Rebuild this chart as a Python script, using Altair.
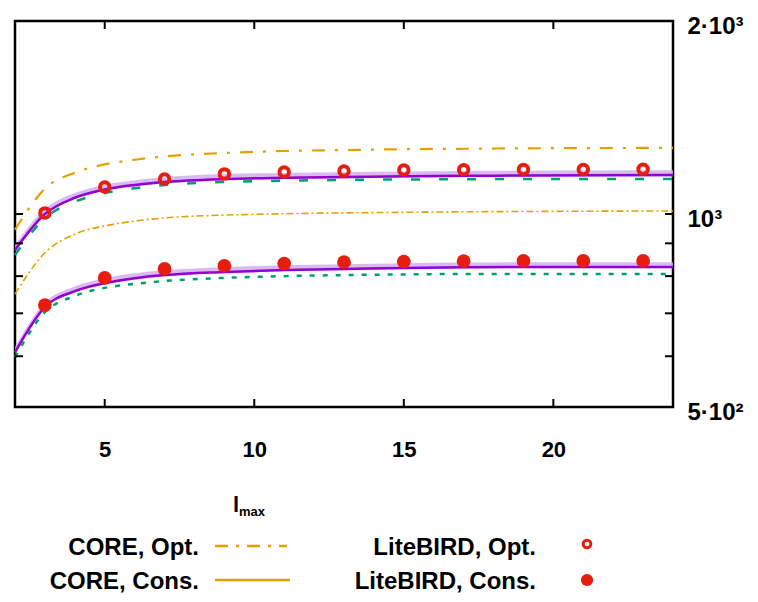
import altair as alt
import pandas as pd

# ---------------- data ----------------
x_line = [2, 3, 4, 5, 6, 7, 9, 11, 13, 15, 17, 19, 21, 24]

core_opt = [945, 1095, 1160, 1195, 1215, 1230, 1245, 1254, 1258, 1262, 1264, 1266, 1267, 1268]
core_cons = [750, 870, 930, 958, 975, 986, 996, 1001, 1004, 1006, 1008, 1009, 1010, 1011]

purple_opt = [879, 1000, 1060, 1092, 1110, 1122, 1134, 1139, 1142, 1145, 1147, 1148, 1149, 1150]
green_opt = [863, 985, 1045, 1078, 1097, 1110, 1122, 1127, 1130, 1132, 1133, 1134, 1134, 1134]
purple_cons = [609, 716, 758, 780, 794, 803, 812, 818, 821, 824, 826, 827, 827, 827]
green_cons = [598, 703, 745, 767, 778, 786, 795, 800, 803, 805, 806, 806, 806, 806]

band_opt_hi = [895, 1018, 1078, 1111, 1129, 1141, 1154, 1159, 1162, 1165, 1167, 1168, 1169, 1170]
band_opt_lo = [875, 995, 1055, 1087, 1104, 1116, 1128, 1133, 1136, 1139, 1141, 1142, 1143, 1144]
band_cons_hi = [620, 728, 771, 794, 808, 817, 826, 832, 835, 838, 840, 841, 841, 841]
band_cons_lo = [606, 712, 754, 776, 790, 799, 808, 814, 817, 820, 822, 823, 823, 823]

x_pts = [3, 5, 7, 9, 11, 13, 15, 17, 19, 21, 23]
lite_opt = [1004, 1102, 1134, 1155, 1163, 1167, 1171, 1172, 1173, 1173, 1174]
lite_cons = [721, 795, 821, 830, 837, 841, 843, 844, 845, 845, 845]

x_ticks = [5, 10, 15, 20]
y_minor = [600, 700, 800, 900, 1000]
y_labels = [500, 1000, 2000]

# ---------------- style ----------------
W, H = 658, 386
FONT = "Liberation Sans"
ORANGE = "#E69F00"
PURPLE = "#9400D3"
BAND = "#D2AEF0"
GREEN = "#009E73"
RED = "#E51E10"

xs = alt.Scale(domain=[2, 24], nice=False, zero=False)
ys = alt.Scale(type="log", domain=[500, 2000], nice=False)

X = alt.X("x:Q", scale=xs, axis=alt.Axis(values=x_ticks, ticks=False, domain=False, grid=False,
                                          labelFont=FONT, labelFontSize=22, labelFontWeight="bold",
                                          labelColor="black",
                                          labelPadding=32, labelOverlap=False, labelFlush=False,
                                          title=None))
Y = alt.Y("v:Q", scale=ys, axis=alt.Axis(orient="right", values=y_labels, ticks=False, domain=False,
                                          grid=False, labelFont=FONT, labelFontSize=24,
                                          labelFontWeight="bold",
                                          labelColor="black", labelAlign="left", labelPadding=14,
                                          labelBaseline="middle", labelOffset=5,
                                          labelOverlap=False, labelFlush=False, labelBound=False,
                                          labelExpr="datum.value == 500 ? '5·10²' : (datum.value == 1000 ? '10³' : '2·10³')",
                                          title=None))


def line(vals, color, dash=None, width=2.5):
    df = pd.DataFrame({"x": x_line, "v": vals})
    kw = dict(color=color, strokeWidth=width, interpolate="monotone")
    if dash:
        kw["strokeDash"] = dash
    return alt.Chart(df).mark_line(**kw).encode(x=X, y=Y)


def band(lo, hi):
    df = pd.DataFrame({"x": x_line, "v": lo, "v2": hi})
    return alt.Chart(df).mark_area(color=BAND, opacity=0.85, interpolate="monotone").encode(
        x=X, y=Y, y2="v2:Q")


layers = []
layers.append(band(band_opt_lo, band_opt_hi))
layers.append(band(band_cons_lo, band_cons_hi))
layers.append(line(core_opt, ORANGE, [13, 10, 3, 10], 2.2))
layers.append(line(core_cons, ORANGE, [7, 3, 2, 3], 1.6))
layers.append(line(green_opt, GREEN, [9, 19], 2.5))
layers.append(line(green_cons, GREEN, [5, 8], 2.5))
layers.append(line(purple_opt, PURPLE, None, 2.5))
layers.append(line(purple_cons, PURPLE, None, 2.5))

pts_opt = pd.DataFrame({"x": x_pts, "v": lite_opt})
pts_cons = pd.DataFrame({"x": x_pts, "v": lite_cons})
layers.append(alt.Chart(pts_opt).mark_point(shape="circle", filled=False, color=RED,
                                            strokeWidth=4, size=90, opacity=1).encode(x=X, y=Y))
layers.append(alt.Chart(pts_cons).mark_point(shape="circle", filled=True, color=RED,
                                             size=190, opacity=1).encode(x=X, y=Y))

# inward tick marks
tx = pd.DataFrame({"x": x_ticks})
ty = pd.DataFrame({"v": y_minor})
for y0, y1 in [(H - 8, H), (0, 8)]:
    layers.append(alt.Chart(tx).mark_rule(color="black", strokeWidth=2).encode(
        x=X, y=alt.value(y0), y2=alt.value(y1)))
for x0, x1 in [(0, 8), (W - 8, W)]:
    layers.append(alt.Chart(ty).mark_rule(color="black", strokeWidth=2).encode(
        y=Y, x=alt.value(x0), x2=alt.value(x1)))

# axis title l_max
one = pd.DataFrame({"a": [0]})
layers.append(alt.Chart(one).mark_text(text="l", font=FONT, fontSize=22, fontWeight="bold",
                                       align="left", baseline="alphabetic", color="black").encode(
    x=alt.value(218), y=alt.value(491)))
layers.append(alt.Chart(one).mark_text(text="max", font=FONT, fontSize=13, fontWeight="bold",
                                       align="left", baseline="alphabetic", color="black").encode(
    x=alt.value(224), y=alt.value(495)))

# legend
leg_left = ["CORE, Opt.", "CORE, Cons."]
leg_right = ["LiteBIRD, Opt.", "LiteBIRD, Cons."]
rows_y = [527, 561]
for txt, yy in zip(leg_left, rows_y):
    layers.append(alt.Chart(one).mark_text(text=txt, font=FONT, fontSize=24, fontWeight="bold",
                                           align="right", baseline="middle", color="black").encode(
        x=alt.value(184), y=alt.value(yy)))
for txt, yy in zip(leg_right, rows_y):
    layers.append(alt.Chart(one).mark_text(text=txt, font=FONT, fontSize=24, fontWeight="bold",
                                           align="right", baseline="middle", color="black").encode(
        x=alt.value(521), y=alt.value(yy)))
layers.append(alt.Chart(one).mark_rule(color=ORANGE, strokeWidth=2.5, strokeDash=[13, 8, 3, 8]).encode(
    x=alt.value(200), x2=alt.value(272), y=alt.value(rows_y[0] - 2)))
layers.append(alt.Chart(one).mark_rule(color=ORANGE, strokeWidth=2.5).encode(
    x=alt.value(200), x2=alt.value(275), y=alt.value(rows_y[1] - 2)))
layers.append(alt.Chart(one).mark_point(shape="circle", filled=False, color=RED, strokeWidth=3,
                                        size=60, opacity=1).encode(
    x=alt.value(572), y=alt.value(rows_y[0] - 4)))
layers.append(alt.Chart(one).mark_point(shape="circle", filled=True, color=RED, size=150,
                                        opacity=1).encode(
    x=alt.value(572), y=alt.value(rows_y[1] - 2)))

chart = alt.layer(*layers).properties(
    width=W, height=H,
    autosize=alt.AutoSizeParams(type="none"),
    padding={"left": 7, "top": 13, "right": 77, "bottom": 187},
    background="white",
).configure_view(stroke="black", strokeWidth=2.5)

chart.save("out.html", embed_options={"renderer": "svg", "actions": False})
